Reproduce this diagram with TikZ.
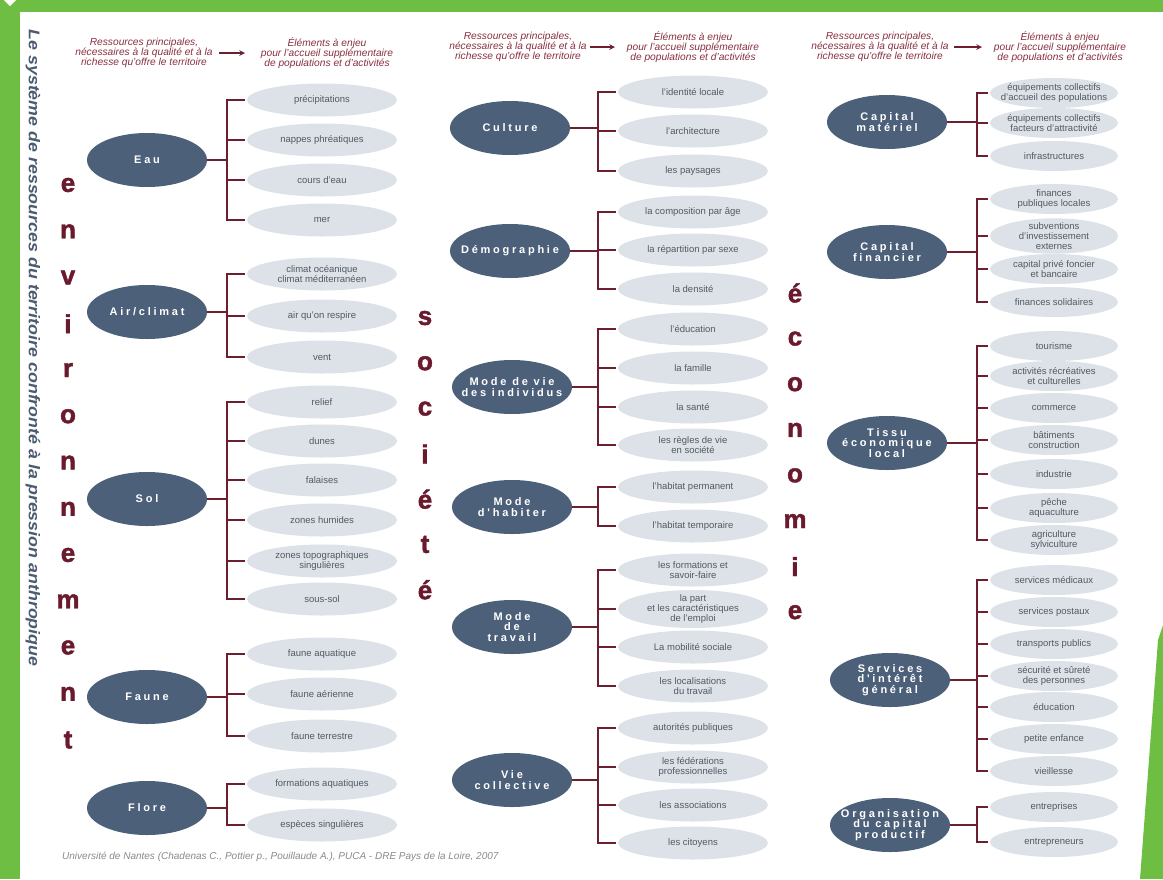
\documentclass[tikz,border=0pt]{standalone}
\usepackage{fontspec}
\setmainfont{Liberation Sans}
\newfontfamily\hubfont[LetterSpace=25]{Liberation Sans}
\newfontfamily\bigfont[BoldFeatures={FakeBold=1.6}]{Liberation Sans}
\usetikzlibrary{shapes.geometric}
\definecolor{greenc}{HTML}{6FBE44}
\definecolor{hubc}{HTML}{4D6079}
\definecolor{leafc}{HTML}{DDE1E8}
\definecolor{leaftext}{HTML}{545A62}
\definecolor{linec}{HTML}{6D1F30}
\definecolor{letc}{HTML}{6A1A2C}
\definecolor{headc}{HTML}{8A3040}
\definecolor{titlec}{HTML}{4B5B70}
\definecolor{footc}{HTML}{8A8A8A}
\newcommand\grp[4]{%
  \draw[conn] (#1) -- (#2);
  \draw[conn, shorten <=2pt, shorten >=2pt] (#3) -- (#2 |- #3) -- (#2 |- #4) -- (#4);}
\newcommand\tck[2]{\draw[conn, shorten >=2pt] (#1 |- #2) -- (#2);}
\begin{document}
\begin{tikzpicture}[x=1pt,y=-1pt,
  hubst/.style={ellipse, fill=hubc, minimum width=120pt, minimum height=54pt,
    inner xsep=-8pt, inner ysep=0pt, align=center, text=white,
    font=\hubfont\bfseries\fontsize{11}{10.5}\selectfont},
  leafst/.style={ellipse, fill=leafc, minimum width=150pt, minimum height=33pt,
    inner xsep=0pt, inner ysep=-1pt, align=center, text=leaftext,
    font=\fontsize{9.5}{10}\selectfont},
  leafn/.style={leafst, minimum width=128pt, minimum height=30pt, inner xsep=-15pt},
  conn/.style={draw=linec, line width=2pt},
  bigl/.style={text=letc, font=\bigfont\bfseries\fontsize{26}{26}\selectfont, inner sep=0pt},
  headst/.style={text=headc, font=\itshape\fontsize{10.2}{10}\selectfont, align=center, inner sep=0pt},
  arr/.style={draw=linec, line width=1.5pt, -stealth}]
\useasboundingbox (0,0) rectangle (1163,879);
\fill[white] (0,0) rectangle (1163,879);
% green frame
\fill[greenc] (0,0) rectangle (1163,12);
\fill[greenc] (0,0) rectangle (20,879);
\fill[greenc] (1163,625) -- (1158,640) -- (1140,879) -- (1163,879) -- cycle;
\fill[white] (4,0) -- (16,0) -- (10,6) -- cycle;
% title
\node[rotate=-90, text=titlec, font=\bfseries\itshape\fontsize{15.5}{15.5}\selectfont, inner sep=0pt] (title) at (33,348)
  {\scalebox{1.15}[1]{Le système de ressources du territoire confronté à la pression anthropique}};
% big letters
\foreach \ch [count=\i] in {e,n,v,i,r,o,n,n,e,m,e,n,t}
  \node[bigl] (env\i) at (68,{185+(\i-1)*46.25}) {\ch};
\foreach \ch [count=\i] in {s,o,c,i,é,t,é}
  \node[bigl] (soc\i) at (425,{318+(\i-1)*45.3}) {\ch};
\foreach \ch [count=\i] in {é,c,o,n,o,m,i,e}
  \node[bigl] (eco\i) at (795,{293+(\i-1)*45.6}) {\ch};
% headers
\node[headst] (hl1) at (144,53) {Ressources principales,\\nécessaires à la qualité et à la\\richesse qu'offre le territoire};
\node[headst] (hr1) at (327,53) {Éléments à enjeu\\pour l'accueil supplémentaire\\de populations et d'activités};
\coordinate (a1s) at (219,53); \coordinate (a1e) at (245,53);
\draw[arr] (a1s) -- (a1e);
\node[headst] (hl2) at (518,47) {Ressources principales,\\nécessaires à la qualité et à la\\richesse qu'offre le territoire};
\node[headst] (hr2) at (693,47) {Éléments à enjeu\\pour l'accueil supplémentaire\\de populations et d'activités};
\coordinate (a2s) at (590,47); \coordinate (a2e) at (615,47);
\draw[arr] (a2s) -- (a2e);
\node[headst] (hl3) at (880,47) {Ressources principales,\\nécessaires à la qualité et à la\\richesse qu'offre le territoire};
\node[headst] (hr3) at (1060,47) {Éléments à enjeu\\pour l'accueil supplémentaire\\de populations et d'activités};
\coordinate (a3s) at (954,47); \coordinate (a3e) at (982,47);
\draw[arr] (a3s) -- (a3e);
% footer
\node[anchor=west, text=footc, font=\itshape\fontsize{10}{10}\selectfont, inner sep=0pt] (foot) at (62,857)
  {Université de Nantes (Chadenas C., Pottier p., Pouillaude A.), PUCA - DRE Pays de la Loire, 2007};

% ===== column 1 : environnement =====
\node[hubst] (eau) at (147,160) {Eau};
\node[leafst] (e1) at (322,100) {précipitations};
\node[leafst] (e2) at (322,140) {nappes phréatiques};
\node[leafst] (e3) at (322,180) {cours d'eau};
\node[leafst] (e4) at (322,220) {mer};
\coordinate (eaub) at (227,160);
\grp{eau}{eaub}{e1}{e4} \tck{eaub}{e2} \tck{eaub}{e3}

\node[hubst] (air) at (147,312) {Air/climat};
\node[leafst] (a1) at (322,274) {climat océanique\\climat méditerranéen};
\node[leafst] (a2) at (322,316) {air qu'on respire};
\node[leafst] (a3) at (322,357) {vent};
\coordinate (airb) at (227,312);
\grp{air}{airb}{a1}{a3} \tck{airb}{a2}

\node[hubst] (sol) at (147,499) {Sol};
\node[leafst] (s1) at (322,402) {relief};
\node[leafst] (s2) at (322,441) {dunes};
\node[leafst] (s3) at (322,480) {falaises};
\node[leafst] (s4) at (322,520) {zones humides};
\node[leafst] (s5) at (322,561) {zones topographiques\\singulières};
\node[leafst] (s6) at (322,599) {sous-sol};
\coordinate (solb) at (227,499);
\grp{sol}{solb}{s1}{s6} \tck{solb}{s2} \tck{solb}{s3} \tck{solb}{s4} \tck{solb}{s5}

\node[hubst] (faune) at (147,697) {Faune};
\node[leafst] (f1) at (322,654) {faune aquatique};
\node[leafst] (f2) at (322,694) {faune aérienne};
\node[leafst] (f3) at (322,736) {faune terrestre};
\coordinate (fauneb) at (227,697);
\grp{faune}{fauneb}{f1}{f3} \tck{fauneb}{f2}

\node[hubst] (flore) at (147,808) {Flore};
\node[leafst] (fl1) at (322,784) {formations aquatiques};
\node[leafst] (fl2) at (322,825) {espèces singulières};
\coordinate (floreb) at (227,808);
\grp{flore}{floreb}{fl1}{fl2}

% ===== column 2 : société =====
\node[hubst] (cult) at (510,128) {Culture};
\node[leafst] (cu1) at (693,92) {l'identité locale};
\node[leafst] (cu2) at (693,131) {l'architecture};
\node[leafst] (cu3) at (693,171) {les paysages};
\coordinate (cultb) at (598,128);
\grp{cult}{cultb}{cu1}{cu3} \tck{cultb}{cu2}

\node[hubst] (demo) at (510,251) {Démographie};
\node[leafst] (d1) at (693,212) {la composition par âge};
\node[leafst] (d2) at (693,250) {la répartition par sexe};
\node[leafst] (d3) at (693,289) {la densité};
\coordinate (demob) at (598,251);
\grp{demo}{demob}{d1}{d3} \tck{demob}{d2}

\node[hubst] (mvie) at (512,387) {Mode de vie\\des individus};
\node[leafst] (mv1) at (693,329) {l'éducation};
\node[leafst] (mv2) at (693,368) {la famille};
\node[leafst] (mv3) at (693,407) {la santé};
\node[leafst] (mv4) at (693,445) {les règles de vie\\en société};
\coordinate (mvieb) at (598,387);
\grp{mvie}{mvieb}{mv1}{mv4} \tck{mvieb}{mv2} \tck{mvieb}{mv3}

\node[hubst] (mhab) at (512,507) {Mode\\d'habiter};
\node[leafst] (mh1) at (693,487) {l'habitat permanent};
\node[leafst] (mh2) at (693,526) {l'habitat temporaire};
\coordinate (mhabb) at (598,507);
\grp{mhab}{mhabb}{mh1}{mh2}

\node[hubst] (mtrav) at (512,627) {Mode\\de\\travail};
\node[leafst] (mt1) at (693,570) {les formations et\\savoir-faire};
\node[leafst] (mt2) at (693,609) {la part\\et les caractéristiques\\de l'emploi};
\node[leafst] (mt3) at (693,647) {La mobilité sociale};
\node[leafst] (mt4) at (693,686) {les localisations\\du travail};
\coordinate (mtravb) at (598,627);
\grp{mtrav}{mtravb}{mt1}{mt4} \tck{mtravb}{mt2} \tck{mtravb}{mt3}

\node[hubst] (vcol) at (512,780) {Vie\\collective};
\node[leafst] (vc1) at (693,728) {autorités publiques};
\node[leafst] (vc2) at (693,767) {les fédérations\\professionnelles};
\node[leafst] (vc3) at (693,805) {les associations};
\node[leafst] (vc4) at (693,843) {les citoyens};
\coordinate (vcolb) at (598,780);
\grp{vcol}{vcolb}{vc1}{vc4} \tck{vcolb}{vc2} \tck{vcolb}{vc3}

% ===== column 3 : économie =====
\node[hubst] (cmat) at (887,122) {Capital\\matériel};
\node[leafn] (cm1) at (1054,93) {équipements collectifs\\d'accueil des populations};
\node[leafn] (cm2) at (1054,123) {équipements collectifs\\facteurs d'attractivité};
\node[leafn] (cm3) at (1054,156) {infrastructures};
\coordinate (cmatb) at (977,122);
\grp{cmat}{cmatb}{cm1}{cm3} \tck{cmatb}{cm2}

\node[hubst] (cfin) at (887,252) {Capital\\financier};
\node[leafn] (cf1) at (1054,199) {finances\\publiques locales};
\node[leafn] (cf2) at (1054,236) {subventions\\d'investissement\\externes};
\node[leafn] (cf3) at (1054,269) {capital privé foncier\\et bancaire};
\node[leafn] (cf4) at (1054,302) {finances solidaires};
\coordinate (cfinb) at (977,252);
\grp{cfin}{cfinb}{cf1}{cf4} \tck{cfinb}{cf2} \tck{cfinb}{cf3}

\node[hubst] (tissu) at (887,443) {Tissu\\économique\\local};
\node[leafn] (t1) at (1054,346) {tourisme};
\node[leafn] (t2) at (1054,376) {activités récréatives\\et culturelles};
\node[leafn] (t3) at (1054,408) {commerce};
\node[leafn] (t4) at (1054,440) {bâtiments\\construction};
\node[leafn] (t5) at (1054,474) {industrie};
\node[leafn] (t6) at (1054,508) {pêche\\aquaculture};
\node[leafn] (t7) at (1054,540) {agriculture\\sylviculture};
\coordinate (tissub) at (977,443);
\grp{tissu}{tissub}{t1}{t7} \tck{tissub}{t2} \tck{tissub}{t3} \tck{tissub}{t4} \tck{tissub}{t5} \tck{tissub}{t6}

\node[hubst] (serv) at (890,680) {Services\\d'intérêt\\général};
\node[leafn] (sv1) at (1054,580) {services médicaux};
\node[leafn] (sv2) at (1054,612) {services postaux};
\node[leafn] (sv3) at (1054,644) {transports publics};
\node[leafn] (sv4) at (1054,676) {sécurité et sûreté\\des personnes};
\node[leafn] (sv5) at (1054,707) {éducation};
\node[leafn] (sv6) at (1054,739) {petite enfance};
\node[leafn] (sv7) at (1054,771) {vieillesse};
\coordinate (servb) at (977,680);
\grp{serv}{servb}{sv1}{sv7} \tck{servb}{sv2} \tck{servb}{sv3} \tck{servb}{sv4} \tck{servb}{sv5} \tck{servb}{sv6}

\node[hubst] (orga) at (890,825) {Organisation\\du capital\\productif};
\node[leafn] (o1) at (1054,807) {entreprises};
\node[leafn] (o2) at (1054,842) {entrepreneurs};
\coordinate (orgab) at (977,825);
\grp{orga}{orgab}{o1}{o2}
\end{tikzpicture}
\end{document}
